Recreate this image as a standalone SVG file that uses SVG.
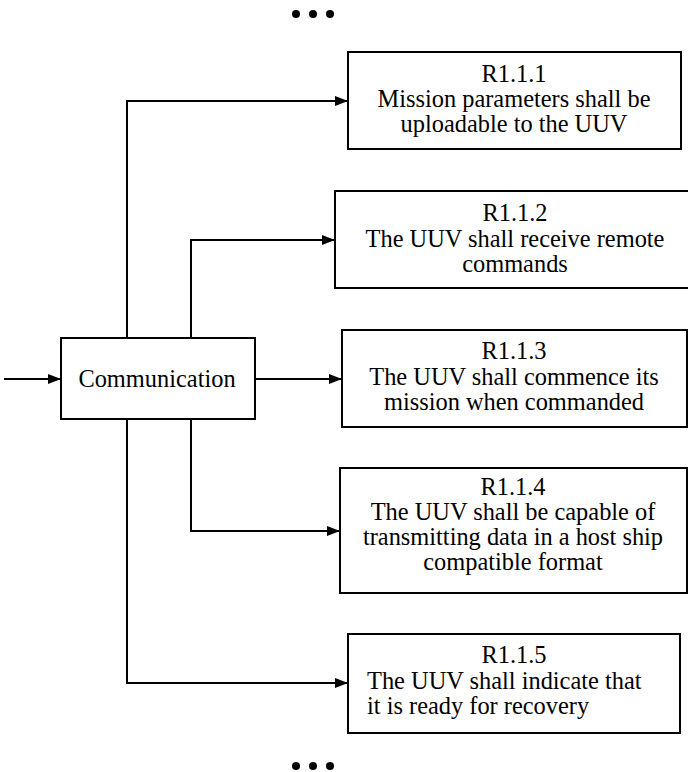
<svg xmlns="http://www.w3.org/2000/svg" width="688" height="772" viewBox="0 0 688 772">
  <defs>
    <style>
      .box { fill: #ffffff; stroke: #000000; stroke-width: 2; }
      .wire { fill: none; stroke: #000000; stroke-width: 2; }
      .lbl { font-family: "Liberation Serif", "Times New Roman", serif; font-size: 24.4px; fill: #000000; }
      .c { text-anchor: middle; }
      .dot { fill: #000000; }
    </style>
    <marker id="arrow" markerUnits="userSpaceOnUse" markerWidth="14" markerHeight="10" refX="13" refY="5" orient="auto">
      <path d="M0,0 L13,5 L0,10 z" fill="#000000"/>
    </marker>
  </defs>

  <rect width="688" height="772" fill="#ffffff"/>

  <!-- continuation dots -->
  <g id="dots-top">
    <circle class="dot" cx="296" cy="14" r="4"/>
    <circle class="dot" cx="313" cy="14" r="4"/>
    <circle class="dot" cx="330" cy="14" r="4"/>
  </g>
  <g id="dots-bottom">
    <circle class="dot" cx="296" cy="766" r="4"/>
    <circle class="dot" cx="313" cy="766" r="4"/>
    <circle class="dot" cx="330" cy="766" r="4"/>
  </g>

  <!-- connectors -->
  <g id="connectors">
    <path class="wire" d="M4,379 H61" marker-end="url(#arrow)"/>
    <path class="wire" d="M255,379 H342" marker-end="url(#arrow)"/>
    <path class="wire" d="M127,338 V101 H348" marker-end="url(#arrow)"/>
    <path class="wire" d="M191,338 V240 H335" marker-end="url(#arrow)"/>
    <path class="wire" d="M191,419 V531 H340" marker-end="url(#arrow)"/>
    <path class="wire" d="M127,419 V683 H348" marker-end="url(#arrow)"/>
  </g>

  <g id="communication">
    <rect class="box" x="61" y="338" width="194" height="81"/>
    <text class="lbl c" x="157" y="387">Communication</text>
  </g>

  <g id="r1-1-1">
    <rect class="box" x="348" y="52" width="333" height="97"/>
    <text class="lbl c" x="514" y="82">R1.1.1</text>
    <text class="lbl c" x="514" y="107">Mission parameters shall be</text>
    <text class="lbl c" x="514" y="132">uploadable to the UUV</text>
  </g>

  <g id="r1-1-2">
    <rect class="box" x="335" y="191" width="360" height="97"/>
    <text class="lbl c" x="515" y="221">R1.1.2</text>
    <text class="lbl c" x="515" y="247">The UUV shall receive remote</text>
    <text class="lbl c" x="515" y="272">commands</text>
  </g>

  <g id="r1-1-3">
    <rect class="box" x="342" y="330" width="345" height="97"/>
    <text class="lbl c" x="514" y="359">R1.1.3</text>
    <text class="lbl c" x="514" y="385">The UUV shall commence its</text>
    <text class="lbl c" x="514" y="410">mission when commanded</text>
  </g>

  <g id="r1-1-4">
    <rect class="box" x="340" y="468" width="347" height="125"/>
    <text class="lbl c" x="513" y="495">R1.1.4</text>
    <text class="lbl c" x="513" y="520">The UUV shall be capable of</text>
    <text class="lbl c" x="513" y="545">transmitting data in a host ship</text>
    <text class="lbl c" x="513" y="570">compatible format</text>
  </g>

  <g id="r1-1-5">
    <rect class="box" x="348" y="634" width="332" height="99"/>
    <text class="lbl c" x="514" y="663">R1.1.5</text>
    <text class="lbl" x="367" y="689">The UUV shall indicate that</text>
    <text class="lbl" x="367" y="714">it is ready for recovery</text>
  </g>
</svg>
